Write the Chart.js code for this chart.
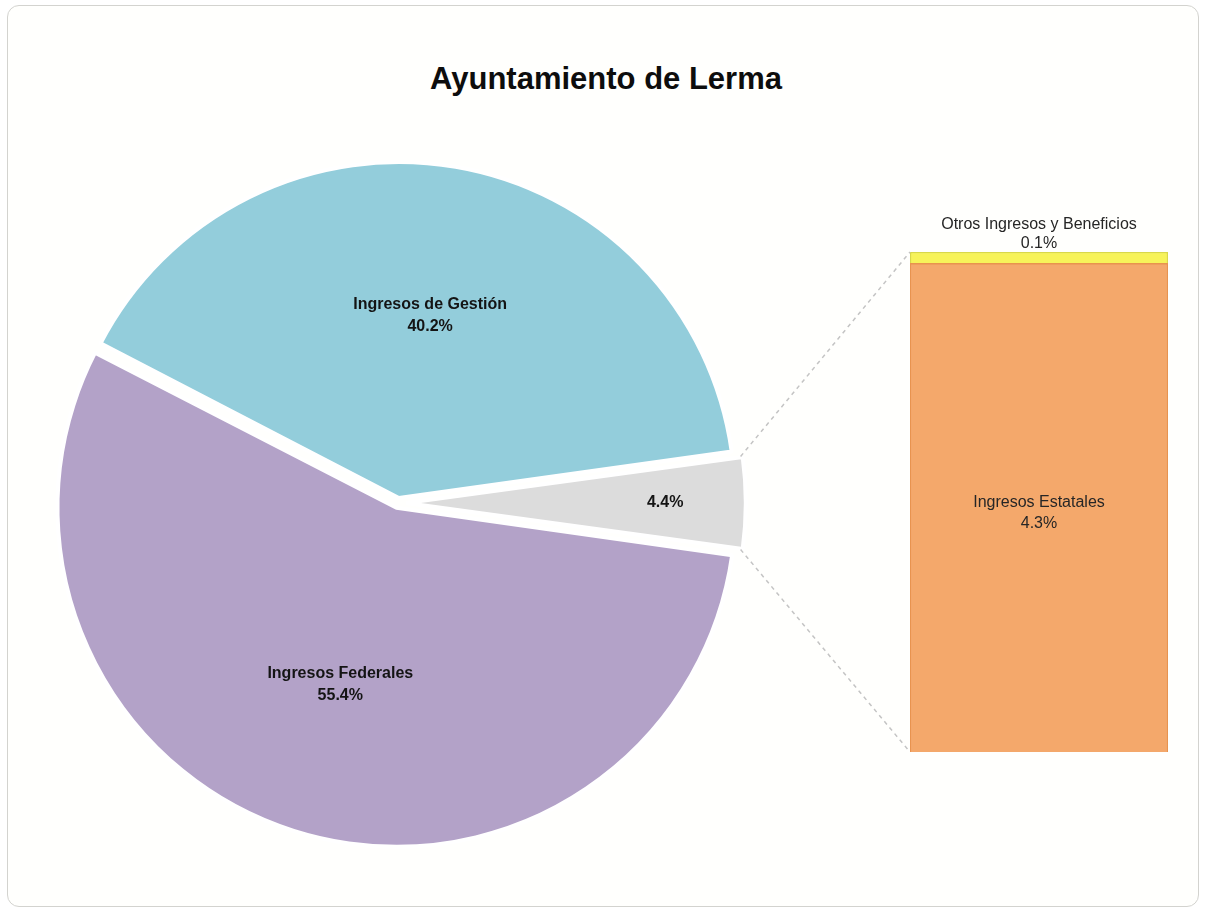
<!DOCTYPE html>
<html>
<head>
<meta charset="utf-8">
<script src="https://cdn.jsdelivr.net/npm/chart.js@4.4.1/dist/chart.umd.min.js"></script>
<style>
  html, body { margin: 0; padding: 0; background: #ffffff; }
  #frame {
    position: absolute; left: 7px; top: 5px; width: 1190px; height: 900px;
    border: 1.5px solid #d3d3cf; border-radius: 12px; background: #fffffd;
  }
  #title {
    position: absolute; left: 0; top: 61px; width: 1212px; text-align: center;
    font: bold 31px 'Liberation Sans', Arial, sans-serif; color: #0d0d0d;
  }
  canvas { position: absolute; }
  #overlay { pointer-events: none; }
</style>
</head>
<body>
<div id="frame"></div>
<div id="title">Ayuntamiento de Lerma</div>
<canvas id="pie" width="796" height="766" style="left:0;top:120px"></canvas>
<canvas id="bar" width="290" height="565" style="left:895px;top:200px"></canvas>
<canvas id="overlay" width="1205" height="911" style="left:0;top:0"></canvas>
<script>
// pie values (percent)
const pieLabels = ['Ingresos de Gestión', 'Otros', 'Ingresos Federales'];
const pieValues = [40.2, 4.4, 55.4];
const pieColors = ['#93cddb', '#dcdcdc', '#b3a2c8'];

// bar of pie (breakdown of the 4.4%)
const barLabels = ['Ingresos Estatales', 'Otros Ingresos y Beneficios'];
const barValues = [4.3, 0.1];
const barColors = ['#f4a86b', '#f7f35a'];
const barBorders = ['#e8934f', '#d9d84a'];

const LABEL_FONT = "'Liberation Sans', Arial, sans-serif";
const pct = v => v.toFixed(1) + '%';

// rotate so the small slice sits at 3 o'clock
const pieRotation = 90 - (pieValues[0] + pieValues[1] / 2) / 100 * 360;

const pieLabelPlugin = {
  id: 'pieLabels',
  afterDatasetsDraw(chart) {
    const ctx = chart.ctx;
    const meta = chart.getDatasetMeta(0);
    ctx.save();
    ctx.fillStyle = '#141414';
    ctx.textAlign = 'center';
    ctx.textBaseline = 'middle';
    ctx.font = 'bold 16px ' + LABEL_FONT;
    meta.data.forEach((arc, i) => {
      const p = arc.getProps(['x', 'y', 'startAngle', 'endAngle', 'outerRadius']);
      const mid = (p.startAngle + p.endAngle) / 2;
      const small = pieValues[i] < 10;
      const r = p.outerRadius * (small ? 0.8 : 0.57);
      const cx = p.x + Math.cos(mid) * r;
      const cy = p.y + Math.sin(mid) * r;
      if (small) {
        ctx.fillText(pct(pieValues[i]), cx, cy);
      } else {
        ctx.fillText(pieLabels[i], cx, cy - 11);
        ctx.fillText(pct(pieValues[i]), cx, cy + 11);
      }
    });
    ctx.restore();
  }
};

const pieChart = new Chart(document.getElementById('pie'), {
  type: 'pie',
  data: {
    labels: pieLabels,
    datasets: [{
      data: pieValues,
      backgroundColor: pieColors,
      borderColor: '#ffffff',
      borderWidth: 4,
      offset: [20, 32, 20]
    }]
  },
  options: {
    responsive: false,
    animation: false,
    rotation: pieRotation,
    radius: 334,
    layout: { padding: 0 },
    plugins: { legend: { display: false }, tooltip: { enabled: false } }
  },
  plugins: [pieLabelPlugin]
});

const barLabelPlugin = {
  id: 'barLabels',
  afterDatasetsDraw(chart) {
    const ctx = chart.ctx;
    ctx.save();
    ctx.fillStyle = '#262626';
    ctx.textAlign = 'center';
    ctx.textBaseline = 'middle';
    ctx.font = '16px ' + LABEL_FONT;
    // main segment: label centred inside
    const big = chart.getDatasetMeta(0).data[0];
    const cy = (big.y + big.base) / 2;
    ctx.fillText(barLabels[0], big.x, cy - 5);
    ctx.fillText(pct(barValues[0]), big.x, cy + 16);
    // thin segment: label above the bar
    const thin = chart.getDatasetMeta(1).data[0];
    ctx.fillText(barLabels[1], thin.x, thin.y - 27);
    ctx.fillText(pct(barValues[1]), thin.x, thin.y - 8);
    ctx.restore();
  }
};

const barChart = new Chart(document.getElementById('bar'), {
  type: 'bar',
  data: {
    labels: [''],
    datasets: barValues.map((v, i) => ({
      label: barLabels[i],
      data: [v],
      backgroundColor: barColors[i],
      borderColor: barBorders[i],
      borderWidth: 1.5,
      barPercentage: 1,
      categoryPercentage: 1
    }))
  },
  options: {
    responsive: false,
    animation: false,
    layout: { padding: { left: 15, right: 17, top: 52, bottom: 13 } },
    scales: {
      x: { stacked: true, display: false },
      y: { stacked: true, display: false, min: 0, max: barValues[0] + barValues[1] }
    },
    plugins: { legend: { display: false }, tooltip: { enabled: false } }
  },
  plugins: [barLabelPlugin]
});

// connector lines between the small slice and the bar
function drawConnectors() {
  const ctx = document.getElementById('overlay').getContext('2d');
  const pieBox = pieChart.canvas.getBoundingClientRect();
  const barBox = barChart.canvas.getBoundingClientRect();
  const arc = pieChart.getDatasetMeta(0).data[1];
  const p = arc.getProps(['x', 'y', 'startAngle', 'endAngle', 'outerRadius']);
  const off = (arc.options.offset || 0) / 4;
  const mid = (p.startAngle + p.endAngle) / 2;
  const fix = 1 - Math.sin(Math.min(Math.PI, p.endAngle - p.startAngle));
  const R = p.outerRadius + off * fix - 2;
  const ox = pieBox.left + p.x + Math.cos(mid) * off;
  const oy = pieBox.top + p.y + Math.sin(mid) * off;
  const top = barChart.getDatasetMeta(1).data[0];
  const bottom = barChart.getDatasetMeta(0).data[0];
  const bx = barBox.left + top.x - top.width / 2;
  ctx.save();
  ctx.strokeStyle = '#c4c4c4';
  ctx.lineWidth = 1.5;
  ctx.setLineDash([4, 4]);
  ctx.beginPath();
  ctx.moveTo(ox + Math.cos(p.startAngle) * R, oy + Math.sin(p.startAngle) * R);
  ctx.lineTo(bx, barBox.top + top.y);
  ctx.moveTo(ox + Math.cos(p.endAngle) * R, oy + Math.sin(p.endAngle) * R);
  ctx.lineTo(bx, barBox.top + bottom.base);
  ctx.stroke();
  ctx.restore();
}
drawConnectors();
</script>
</body>
</html>
